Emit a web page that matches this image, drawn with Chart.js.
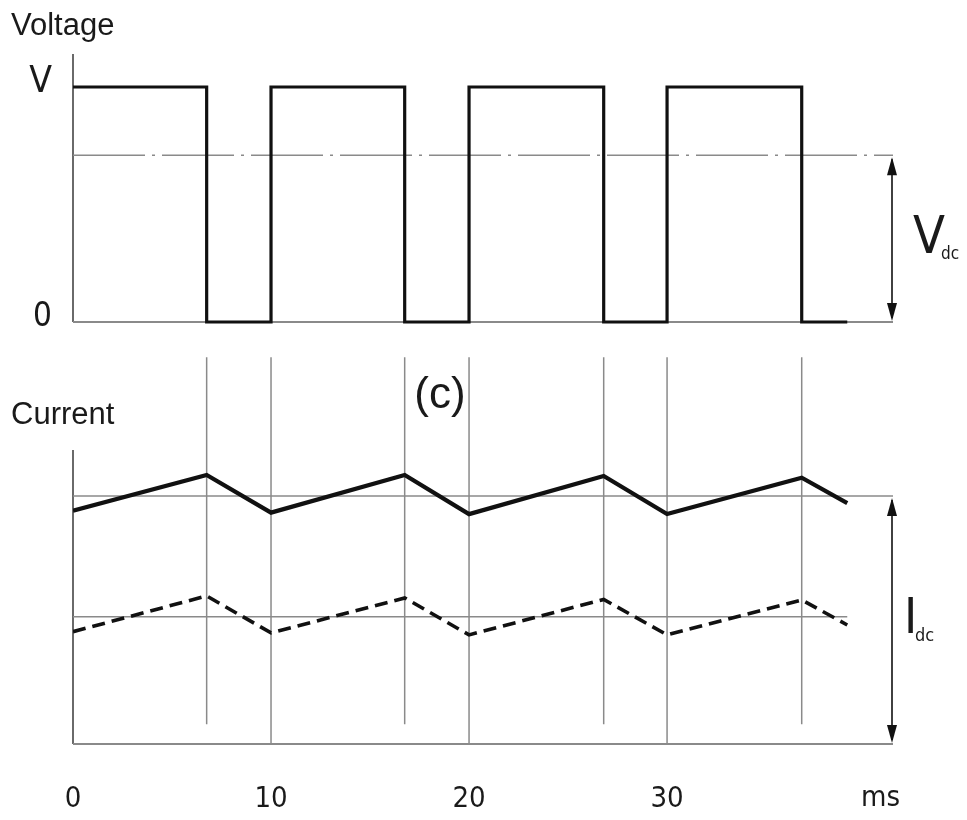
<!DOCTYPE html>
<html><head><meta charset="utf-8">
<script src="https://cdn.jsdelivr.net/npm/chart.js@4/dist/chart.umd.min.js"></script>
<style>html,body{margin:0;padding:0;background:#fff}canvas{display:block}</style>
</head><body>
<canvas id="c" width="967" height="820"></canvas>
<script>
// ---- data ----
const voltageTimes  = [0, 6.75, 6.75, 10, 10, 16.75, 16.75, 20, 20, 26.8, 26.8, 30, 30, 36.8, 36.8, 39.1];
const voltageLevels = [1, 1,    0,    0,  1,  1,     0,     0,  1,  1,    0,    0,  1,  1,    0,    0];
const currentTimes  = [0, 6.75, 10, 16.75, 20, 26.8, 30, 36.8, 39.1];
const currentSolid  = [0.941, 1.085, 0.933, 1.085, 0.927, 1.081, 0.927, 1.074, 0.971];
const currentDashed = [0.453, 0.597, 0.448, 0.589, 0.440, 0.583, 0.440, 0.581, 0.480];
const switchTimes   = [6.75, 16.75, 26.8, 36.8];
const vdcLevel = [0.71];
const idcLevels = [1.0, 0.513];
const xTickValues = [0, 10, 20, 30];
const xTickLabels = ['0', '10', '20', '30'];
const vTickValues = [0, 1];
const vTickLabels = ['0', 'V'];

const NARROW = "'Liberation Sans Narrow','DejaVu Sans Condensed','Liberation Sans',Arial,sans-serif";
const REG = "'Liberation Sans',Arial,Helvetica,sans-serif";
const toPts = (xs, ys) => xs.map((x, i) => ({x: x, y: ys[i]}));

function arrow(ctx, x, y1, y2) {
  ctx.save();
  ctx.strokeStyle = '#111'; ctx.fillStyle = '#111'; ctx.lineWidth = 1.6;
  ctx.beginPath(); ctx.moveTo(x, y1 + 4); ctx.lineTo(x, y2 - 4); ctx.stroke();
  const head = (tipY, dir) => {
    ctx.beginPath();
    ctx.moveTo(x, tipY);
    ctx.lineTo(x - 5, tipY + dir * 18);
    ctx.lineTo(x + 5, tipY + dir * 18);
    ctx.closePath(); ctx.fill();
  };
  head(y1 + 2, 1); head(y2 - 1, -1);
  ctx.restore();
}

const decor = {
  id: 'decor',
  beforeDatasetsDraw(chart) {
    const ctx = chart.ctx, x = chart.scales.x, yV = chart.scales.yV, yI = chart.scales.yI;
    const px = v => x.getPixelForValue(v);
    const x0 = px(0), xEnd = px(x.max);
    ctx.save();
    ctx.strokeStyle = '#8a8a8a'; ctx.lineWidth = 1.5;
    const gapTop = yV.getPixelForValue(-0.15);
    switchTimes.forEach(t => {
      ctx.beginPath(); ctx.moveTo(px(t), gapTop); ctx.lineTo(px(t), yI.getPixelForValue(0.08)); ctx.stroke();
    });
    xTickValues.filter(v => v > 0).forEach(t => {
      ctx.beginPath(); ctx.moveTo(px(t), gapTop); ctx.lineTo(px(t), yI.getPixelForValue(0)); ctx.stroke();
    });
    ctx.strokeStyle = '#6a6a6a'; ctx.lineWidth = 2;
    ctx.beginPath(); ctx.moveTo(x0, yV.getPixelForValue(1.14)); ctx.lineTo(x0, yV.getPixelForValue(0)); ctx.stroke();
    ctx.beginPath(); ctx.moveTo(x0, yI.getPixelForValue(1.185)); ctx.lineTo(x0, yI.getPixelForValue(0)); ctx.stroke();
    ctx.strokeStyle = '#8a8a8a'; ctx.lineWidth = 2;
    ctx.beginPath(); ctx.moveTo(x0, yV.getPixelForValue(0)); ctx.lineTo(xEnd, yV.getPixelForValue(0)); ctx.stroke();
    ctx.beginPath(); ctx.moveTo(x0, yI.getPixelForValue(0)); ctx.lineTo(xEnd, yI.getPixelForValue(0)); ctx.stroke();
    ctx.lineWidth = 1.5; ctx.strokeStyle = '#8a8a8a';
    ctx.setLineDash([72, 7, 3, 7]);
    ctx.beginPath(); ctx.moveTo(x0, yV.getPixelForValue(vdcLevel[0])); ctx.lineTo(xEnd, yV.getPixelForValue(vdcLevel[0])); ctx.stroke();
    ctx.setLineDash([]);
    ctx.beginPath(); ctx.moveTo(x0, yI.getPixelForValue(idcLevels[0])); ctx.lineTo(xEnd, yI.getPixelForValue(idcLevels[0])); ctx.stroke();
    ctx.beginPath(); ctx.moveTo(x0, yI.getPixelForValue(idcLevels[1])); ctx.lineTo(px(39.1), yI.getPixelForValue(idcLevels[1])); ctx.stroke();
    ctx.restore();
  },
  afterDatasetsDraw(chart) {
    const ctx = chart.ctx, x = chart.scales.x, yV = chart.scales.yV, yI = chart.scales.yI;
    const xEnd = x.getPixelForValue(x.max) - 1;
    arrow(ctx, xEnd, yV.getPixelForValue(vdcLevel[0]), yV.getPixelForValue(0));
    arrow(ctx, xEnd, yI.getPixelForValue(idcLevels[0]), yI.getPixelForValue(0));
    ctx.save();
    ctx.fillStyle = '#1a1a1a'; ctx.textBaseline = 'alphabetic'; ctx.textAlign = 'left';
    ctx.font = '31px ' + REG;
    ctx.fillText('Voltage', 11, 35);
    ctx.fillText('Current', 11, 424);
    ctx.textAlign = 'center';
    ctx.font = '44px ' + REG;
    ctx.fillText('(c)', 440, 408);
    ctx.textAlign = 'left';
    ctx.font = '52px ' + NARROW;
    ctx.fillText('V', 913, 253);
    ctx.font = '17px ' + NARROW;
    ctx.fillText('dc', 941, 259);
    ctx.font = '50px ' + NARROW;
    ctx.fillText('I', 904, 633);
    ctx.font = '18px ' + NARROW;
    ctx.fillText('dc', 915, 641);
    ctx.textAlign = 'right';
    ctx.font = '29px ' + NARROW;
    ctx.fillText('ms', 900, 806);
    ctx.restore();
  }
};

new Chart(document.getElementById('c'), {
  type: 'line',
  data: {
    datasets: [
      {label: 'Voltage', data: toPts(voltageTimes, voltageLevels), yAxisID: 'yV',
       borderColor: '#111', borderWidth: 3.2, pointRadius: 0, tension: 0, fill: false},
      {label: 'Current (solid)', data: toPts(currentTimes, currentSolid), yAxisID: 'yI',
       borderColor: '#111', borderWidth: 4.2, pointRadius: 0, tension: 0, fill: false},
      {label: 'Current (dashed)', data: toPts(currentTimes, currentDashed), yAxisID: 'yI',
       borderColor: '#111', borderWidth: 3.6, borderDash: [13, 7], pointRadius: 0, tension: 0, fill: false}
    ]
  },
  options: {
    responsive: false, animation: false,
    layout: {padding: {top: 50, left: 0, right: 74, bottom: 0}},
    plugins: {legend: {display: false}, tooltip: {enabled: false}, title: {display: false}},
    scales: {
      x: {
        type: 'linear', min: 0, max: 41.41,
        grid: {display: false}, border: {display: false},
        afterBuildTicks: s => { s.ticks = xTickValues.map(v => ({value: v})); },
        afterFit: s => { s.height = 76; },
        ticks: {
          padding: 30, color: '#1a1a1a', font: {family: NARROW, size: 29},
          maxRotation: 0, autoSkip: false,
          callback: v => { const i = xTickValues.indexOf(v); return i >= 0 ? xTickLabels[i] : ''; }
        }
      },
      yV: {
        type: 'linear', position: 'left', min: -1.7957, max: 1.1574,
        grid: {display: false, drawTicks: false}, border: {display: false},
        afterBuildTicks: s => { s.ticks = vTickValues.map(v => ({value: v})); },
        afterFit: s => { s.width = 73; },
        ticks: {
          padding: 21, labelOffset: -5, color: '#1a1a1a', autoSkip: false,
          font: c => ({family: NARROW, size: (c.tick && c.tick.value === 1) ? 37 : 33}),
          callback: v => { const i = vTickValues.indexOf(v); return i >= 0 ? vTickLabels[i] : ''; }
        }
      },
      yI: {
        type: 'linear', position: 'left', min: 0, max: 2.7984, display: false
      }
    }
  },
  plugins: [decor]
});
</script>
</body></html>
